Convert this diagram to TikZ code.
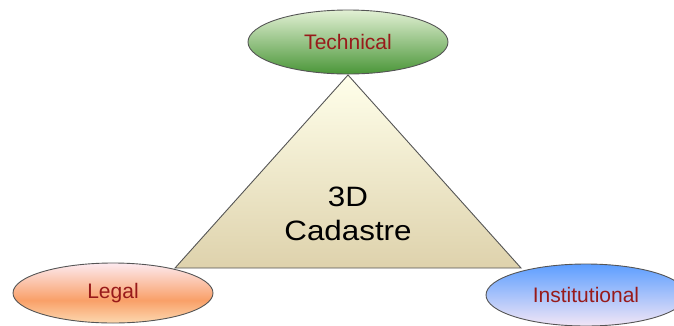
\documentclass[tikz,border=0pt]{standalone}
\usepackage{fontspec}
\setmainfont{Liberation Sans}
\usetikzlibrary{shapes.geometric}
\definecolor{lbl}{HTML}{981A1A}
\definecolor{edge}{HTML}{555555}
\definecolor{techtop}{HTML}{E2F0D4}
\definecolor{techmid}{HTML}{A6C878}
\definecolor{techbot}{HTML}{4A9638}
\definecolor{legtop}{HTML}{FDEAF0}
\definecolor{legmid}{HTML}{F9A068}
\definecolor{legbot}{HTML}{FCD8B0}
\definecolor{insttop}{HTML}{5C9EFF}
\definecolor{instbot}{HTML}{F2E6F6}
\pgfdeclareverticalshading{legalsh}{100bp}{color(0bp)=(legbot); color(25bp)=(legbot); color(44bp)=(legmid); color(75bp)=(legtop); color(100bp)=(legtop)}
\tikzset{
  oval/.style={ellipse, draw=edge, line width=0.9pt, minimum width=200pt, inner sep=0pt, font=\fontsize{21}{21}\selectfont, text=lbl},
  tech/.style={oval, minimum height=64pt, top color=techtop, middle color=techmid, bottom color=techbot},
  legal/.style={oval, minimum height=60pt, shading=legalsh},
  inst/.style={oval, minimum height=62pt, top color=insttop, bottom color=instbot},
}
\begin{document}
\begin{tikzpicture}[x=1pt,y=-1pt]
\useasboundingbox (0,0) rectangle (674,325);
\coordinate (apex) at (348,75);
\coordinate (bl) at (175,268);
\coordinate (br) at (521,268);
\shade[top color=yellow!8!white, bottom color={rgb,255:red,222;green,210;blue,172}, draw=edge, line width=0.9pt] (apex) -- (br) -- (bl) -- cycle;
\node[font=\fontsize{28}{34}\selectfont, align=center, xscale=1.12, transform shape] (core) at (348,214) {3D\\Cadastre};
\node[tech] (tech) at (348,42) {Technical};
\node[legal] (legal) at (113,293) {Legal};
\node[inst] (inst) at (586,295) {Institutional};
\end{tikzpicture}
\end{document}
